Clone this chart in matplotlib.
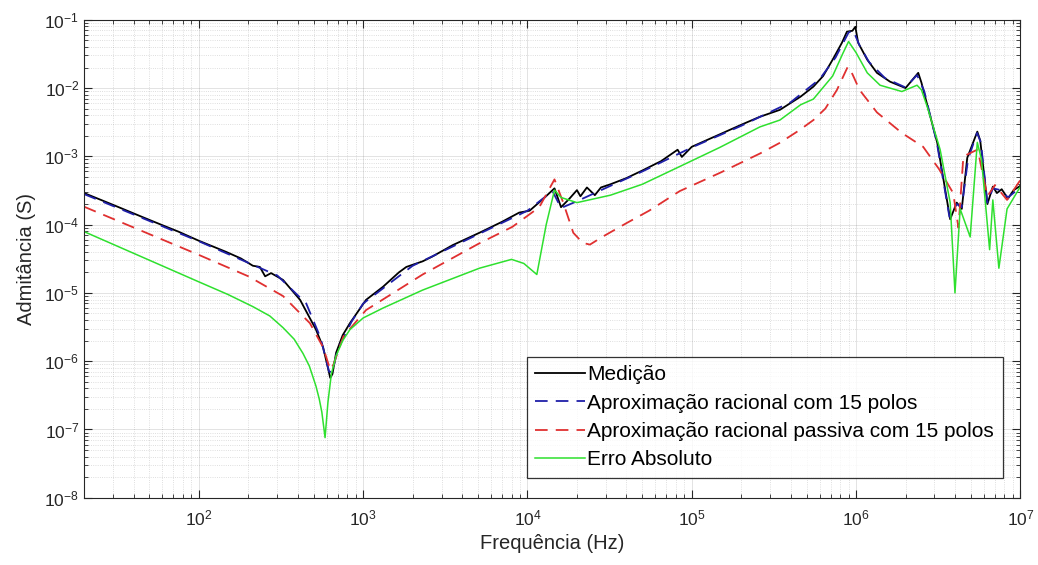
import numpy as np
import matplotlib
matplotlib.use("Agg")
import matplotlib.pyplot as plt
from matplotlib.ticker import LogLocator, NullFormatter, FixedLocator

plt.rcParams['font.family'] = ['Liberation Sans', 'DejaVu Sans']
plt.rcParams['mathtext.fontset'] = 'custom'
plt.rcParams['mathtext.rm'] = 'Liberation Sans'
plt.rcParams['mathtext.it'] = 'Liberation Sans:italic'

# Medição
f_med = [20, 30, 45, 60, 75, 100, 146, 180, 213, 235, 253, 275, 325, 413, 516, 570, 610, 630, 650,
         684, 750, 830, 1040, 1320, 1650, 1830, 2300, 2630, 3500, 5100, 7000, 8900,
         1.03e4, 1.25e4, 1.46e4, 1.6e4, 1.8e4, 2.0e4, 2.1e4, 2.3e4, 2.57e4, 2.8e4, 3.2e4,
         4.0e4, 5.0e4, 6.5e4, 8.2e4, 8.7e4, 1.0e5, 1.48e5, 2.0e5, 2.6e5, 3.44e5, 4.6e5,
         5.5e5, 6.3e5, 7.2e5, 8.2e5, 8.8e5, 9.5e5, 9.9e5, 1.03e6, 1.17e6, 1.34e6, 1.61e6,
         2.0e6, 2.39e6, 2.5e6, 2.63e6, 3.12e6, 3.74e6, 4.1e6, 4.4e6, 4.75e6, 5.47e6, 5.7e6,
         6.3e6, 6.8e6, 7.2e6, 7.7e6, 8.4e6, 9.1e6, 1e7]
y_med = [2.9e-4, 1.95e-4, 1.3e-4, 9.8e-5, 7.9e-5, 5.8e-5, 4.0e-5, 3.2e-5, 2.5e-5, 2.4e-5, 1.75e-5,
         1.95e-5, 1.55e-5, 7.9e-6, 2.9e-6, 1.6e-6, 8e-7, 5.7e-7, 6.5e-7,
         1.33e-6, 2.4e-6, 3.6e-6, 7.9e-6, 1.23e-5, 2.0e-5, 2.4e-5, 2.9e-5, 3.4e-5, 5.0e-5, 7.6e-5, 1.1e-4, 1.5e-4,
         1.6e-4, 2.4e-4, 3.4e-4, 1.8e-4, 2.4e-4, 3.2e-4, 2.6e-4, 3.5e-4, 2.7e-4, 3.5e-4, 3.9e-4,
         4.8e-4, 6.2e-4, 8.5e-4, 1.25e-3, 9.8e-4, 1.38e-3, 2.1e-3, 2.9e-3, 3.8e-3, 4.8e-3, 7.5e-3,
         1.05e-2, 1.5e-2, 2.6e-2, 4.6e-2, 6.7e-2, 6.9e-2, 7.9e-2, 4.6e-2, 2.6e-2, 1.67e-2, 1.24e-2,
         1.0e-2, 1.67e-2, 1.2e-2, 7.5e-3, 1.58e-3, 1.2e-4, 2.1e-4, 1.7e-4, 9.5e-4, 2.3e-3, 1.7e-3,
         2.0e-4, 3.6e-4, 2.9e-4, 3.3e-4, 2.4e-4, 3.2e-4, 3.7e-4]

# aproximação racional (15 polos)
f_rac = [20, 100, 300, 450, 550, 620, 650, 700, 850, 1000, 2000, 5000, 1e4, 1.42e4, 1.6e4, 2e4,
         3.2e4, 5e4, 1e5, 2e5, 4e5, 6e5, 7.5e5, 9e5, 9.6e5, 1.05e6, 1.2e6, 1.5e6, 2e6, 2.35e6,
         2.6e6, 3.1e6, 3.7e6, 4.1e6, 4.4e6, 4.8e6, 5.45e6, 5.75e6, 6.3e6, 6.8e6, 7.6e6, 8.4e6, 1e7]
y_rac = [2.8e-4, 5.7e-5, 1.8e-5, 7e-6, 2.2e-6, 7e-7, 7e-7, 1.5e-6, 3.8e-6, 7e-6, 2.5e-5, 7.2e-5,
         1.6e-4, 3.1e-4, 1.75e-4, 2.2e-4, 3.7e-4, 6e-4, 1.35e-3, 2.8e-3, 6.2e-3, 1.35e-2, 2.8e-2,
         6.5e-2, 7e-2, 4.2e-2, 2.4e-2, 1.4e-2, 1.02e-2, 1.55e-2, 9e-3, 1.6e-3, 1.3e-4, 2.0e-4,
         1.8e-4, 9e-4, 2.2e-3, 1.6e-3, 2.1e-4, 3.4e-4, 3.2e-4, 2.5e-4, 3.5e-4]

# aproximação racional passiva (15 polos)
f_pas = [20, 100, 200, 325, 474, 570, 630, 660, 757, 1040, 2300, 5000, 8100, 1.18e4, 1.46e4,
         1.65e4, 1.9e4, 2.17e4, 2.4e4, 2.85e4, 4e4, 5.5e4, 8.45e4, 1.5e5, 2.6e5, 3.44e5, 4.5e5,
         5.5e5, 6.5e5, 7.65e5, 8.9e5, 9.5e5, 1.05e6, 1.34e6, 1.9e6, 2.56e6, 3.2e6, 3.9e6, 4.2e6,
         4.5e6, 5.5e6, 6.3e6, 7.0e6, 8.3e6, 1e7]
y_pas = [1.83e-4, 3.6e-5, 1.75e-5, 9e-6, 3.6e-6, 1.6e-6, 7.5e-7, 9e-7, 2.3e-6, 5.6e-6, 1.86e-5,
         5.2e-5, 9.3e-5, 1.8e-4, 4.6e-4, 2.1e-4, 7.6e-5, 5.4e-5, 5.1e-5, 6.6e-5, 1.05e-4, 1.6e-4,
         3.1e-4, 5.8e-4, 1.1e-3, 1.58e-3, 2.4e-3, 3.4e-3, 5e-3, 9.4e-3, 2.05e-2, 1.6e-2, 9.4e-3,
         4.4e-3, 2.2e-3, 1.38e-3, 6.5e-4, 2.9e-4, 9e-5, 1.0e-3, 1.26e-3, 2.6e-4, 3.8e-4, 2.3e-4, 4.5e-4]

# erro absoluto
f_err = [20, 100, 150, 213, 270, 325, 380, 430, 470, 516, 540, 560, 586, 610, 640, 684, 750, 830,
         1000, 1320, 2300, 5100, 8000, 9500,
         1.14e4, 1.3e4, 1.46e4, 1.6e4, 2e4, 3.2e4, 5e4, 8.45e4, 1.48e5, 2.6e5, 3.44e5, 4.6e5,
         5.5e5, 7.2e5, 8.3e5, 9e5, 1.0e6, 1.17e6, 1.4e6, 1.9e6, 2.35e6, 2.5e6, 2.7e6, 3.25e6,
         3.74e6, 4.0e6, 4.3e6, 4.95e6, 5.47e6, 5.8e6, 6.5e6, 6.8e6, 7.4e6, 8.3e6, 1e7]
y_err = [7.9e-5, 1.45e-5, 9.5e-6, 6.3e-6, 4.6e-6, 3.1e-6, 2.1e-6, 1.3e-6, 8.5e-7, 4.3e-7, 2.8e-7,
         1.8e-7, 7.6e-8, 2.5e-7, 6.5e-7, 1.2e-6, 2.0e-6, 2.9e-6,
         4.3e-6, 6e-6, 1.1e-5, 2.3e-5, 3.1e-5, 2.7e-5,
         1.86e-5, 1.0e-4, 3.2e-4, 2.5e-4, 2.1e-4, 2.7e-4,
         3.9e-4, 7.1e-4, 1.35e-3, 2.7e-3, 3.4e-3, 5.7e-3, 6.9e-3, 1.5e-2, 3.2e-2, 4.8e-2, 3.3e-2,
         1.67e-2, 1.1e-2, 8.9e-3, 1.1e-2, 9.4e-3, 5.5e-3, 1.25e-3, 2.1e-4, 1e-5, 1.7e-4, 6.6e-5,
         1.6e-3, 9e-4, 4.3e-5, 2.3e-4, 2.3e-5, 1.7e-4, 3.6e-4]

labels = ['Medição', 'Aproximação racional com 15 polos',
          'Aproximação racional passiva com 15 polos', 'Erro Absoluto']

x_major = [1e2, 1e3, 1e4, 1e5, 1e6, 1e7]
y_major = [1e-8, 1e-7, 1e-6, 1e-5, 1e-4, 1e-3, 1e-2, 1e-1]

fig = plt.figure(figsize=(10.38, 5.65), dpi=100)
ax = fig.add_axes([0.081, 0.119, 0.902, 0.846])

ax.loglog(f_med, y_med, color='black', lw=1.3, label=labels[0])
ax.loglog(f_rac, y_rac, color='#1f1fa8', lw=1.3, dashes=(7, 4.5), label=labels[1])
ax.loglog(f_pas, y_pas, color='#e03030', lw=1.3, dashes=(7, 4.5), label=labels[2])
ax.loglog(f_err, y_err, color='#2ee02e', lw=1.1, label=labels[3])

ax.set_xlim(20, 1e7)
ax.set_ylim(1e-8, 1e-1)
ax.xaxis.set_major_locator(FixedLocator(x_major))
ax.xaxis.set_minor_locator(LogLocator(base=10, subs=np.arange(2, 10), numticks=20))
ax.yaxis.set_major_locator(FixedLocator(y_major))
ax.yaxis.set_minor_locator(LogLocator(base=10, subs=np.arange(2, 10), numticks=20))
ax.xaxis.set_minor_formatter(NullFormatter())
ax.yaxis.set_minor_formatter(NullFormatter())

ax.grid(True, which='major', color='#262626', alpha=0.15, lw=0.6)
ax.grid(True, which='minor', color='#262626', alpha=0.2, lw=0.6, ls=':')
ax.tick_params(which='both', direction='in', top=True, right=True, colors='#262626',
               labelsize=12.5)
ax.tick_params(which='major', length=6)
ax.tick_params(which='minor', length=3)
ax.tick_params(axis='x', pad=8)
for s in ax.spines.values():
    s.set_color('#262626')
    s.set_linewidth(0.8)

ax.set_xlabel('Frequência (Hz)', fontsize=14.5, color='#262626', labelpad=4)
ax.set_ylabel('Admitância (S)', fontsize=14.5, color='#262626', labelpad=6)

leg = ax.legend(loc='lower right', fontsize=15, frameon=True, fancybox=False,
                edgecolor='black', handlelength=2.4, handletextpad=0.1,
                borderpad=0.4, labelspacing=0.45, borderaxespad=0.0,
                bbox_to_anchor=(0.981, 0.042))
leg.get_frame().set_linewidth(0.9)

fig.savefig('out.png', dpi=100)
